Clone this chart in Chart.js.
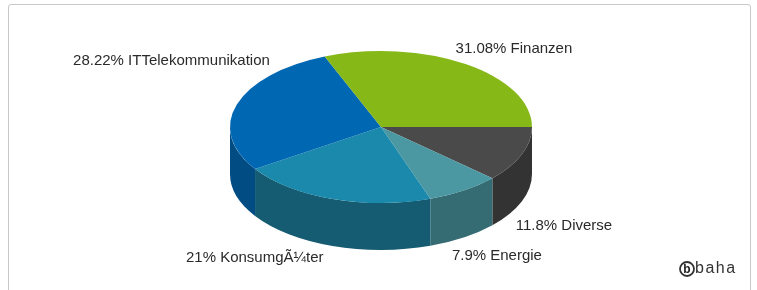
<!DOCTYPE html>
<html>
<head>
<meta charset="utf-8">
<script src="https://cdn.jsdelivr.net/npm/chart.js@4/dist/chart.umd.min.js"></script>
<style>
  html, body { margin: 0; padding: 0; background: #ffffff; overflow: hidden; }
  #wrap { position: relative; width: 757px; height: 290px; }
  #frame { position: absolute; left: 8px; top: 4px; width: 743px; height: 320px;
           border: 1px solid #c9c9c9; border-radius: 3px; box-sizing: border-box; }
  canvas { position: absolute; left: 0; top: 0; }
</style>
</head>
<body>
<div id="wrap">
  <div id="frame"></div>
  <canvas id="c" width="757" height="290"></canvas>
</div>
<script>
// ---- data (clockwise from 3 o'clock) ----
const categories = ['Diverse', 'Energie', 'Konsumg\u00C3\u00BCter', 'ITTelekommunikation', 'Finanzen'];
const shares = [11.8, 7.9, 21, 28.22, 31.08];

// ---- styles ----
const topColors  = ['#4a4a4a', '#4b98a2', '#1b89ab', '#0067b2', '#86b818'];
const sideColors = ['#333333', '#356b72', '#155c72', '#004c83', '#5e8a10'];
const labelNudges = [[-6, 24], [-12, 18], [-9, 12], [33, -44], [-10, -15]];

const pie3d = {
  id: 'pie3d',
  beforeDatasetsDraw(chart, args, opts) {
    const meta = chart.getDatasetMeta(0);
    const a0 = meta.data[0];
    const r = a0.outerRadius;
    const cx = a0.x, cy = a0.y;
    const rx = opts.rx, ry = opts.ry, depth = opts.depth;
    const ctx = chart.ctx;
    meta.data.forEach((arc, i) => {
      const s = Math.max(arc.startAngle, 0);
      const e = Math.min(arc.endAngle, Math.PI);
      if (e <= s) return;
      ctx.beginPath();
      ctx.ellipse(cx, cy, rx, ry, 0, s, e, false);
      ctx.ellipse(cx, cy + depth, rx, ry, 0, e, s, true);
      ctx.closePath();
      ctx.fillStyle = sideColors[i];
      ctx.fill();
    });
    ctx.save();
    ctx.translate(cx, cy);
    ctx.scale(rx / r, ry / r);
    ctx.translate(-cx, -cy);
  },
  afterDatasetsDraw(chart) {
    chart.ctx.restore();
  },
  afterDraw(chart, args, opts) {
    const meta = chart.getDatasetMeta(0);
    const ctx = chart.ctx;
    const rx = opts.rx, ry = opts.ry, depth = opts.depth;
    ctx.save();
    ctx.font = '15px "Liberation Sans", Arial, sans-serif';
    ctx.fillStyle = '#2a2a2a';
    ctx.textBaseline = 'middle';
    meta.data.forEach((arc, i) => {
      const mid = (arc.startAngle + arc.endAngle) / 2;
      const c = Math.cos(mid), s = Math.sin(mid);
      const ex = arc.x + rx * c;
      const ey = arc.y + ry * s + (s > 0 ? depth : 0);
      const n = labelNudges[i];
      ctx.textAlign = c >= 0 ? 'left' : 'right';
      ctx.fillText(shares[i] + '% ' + categories[i], ex + n[0], ey + n[1]);
    });
    // logo
    const lx = chart.width - 70, ly = 269;
    ctx.beginPath();
    ctx.arc(lx, ly, 7, 0, Math.PI * 2);
    ctx.lineWidth = 1.8;
    ctx.strokeStyle = '#333';
    ctx.stroke();
    ctx.font = 'bold 12px "Liberation Sans", Arial, sans-serif';
    ctx.textAlign = 'center';
    ctx.fillStyle = '#222';
    ctx.fillText('b', lx, ly + 0.5);
    ctx.font = '16px "Liberation Sans", Arial, sans-serif';
    ctx.textAlign = 'left';
    ctx.fillStyle = '#333';
    try { ctx.letterSpacing = '1.5px'; } catch (e) {}
    ctx.fillText('baha', lx + 8, ly);
    ctx.restore();
  }
};

new Chart(document.getElementById('c'), {
  type: 'pie',
  data: {
    labels: categories,
    datasets: [{
      data: shares,
      backgroundColor: topColors,
      borderWidth: 0,
      hoverOffset: 0
    }]
  },
  options: {
    responsive: false,
    animation: false,
    rotation: 90,
    events: [],
    layout: { padding: { left: 5, right: 0, top: 0, bottom: 36 } },
    plugins: {
      legend: { display: false },
      tooltip: { enabled: false },
      pie3d: { rx: 151, ry: 76, depth: 47 }
    }
  },
  plugins: [pie3d]
});
</script>
</body>
</html>
